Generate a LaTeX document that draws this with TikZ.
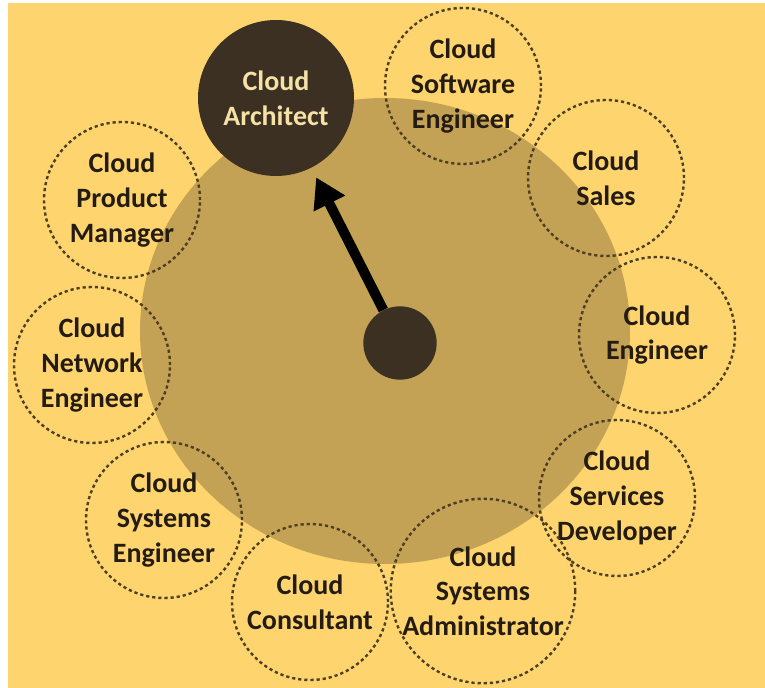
\documentclass[tikz,border=0pt]{standalone}
\usepackage{fontspec}
\setmainfont{Carlito}
\usepackage{tikz}
\usetikzlibrary{shapes}
\usetikzlibrary{arrows.meta}
\definecolor{paper}{HTML}{FDD46E}
\definecolor{sand}{HTML}{C4A255}
\definecolor{bark}{HTML}{3B3022}
\definecolor{ink}{HTML}{241C12}
\definecolor{cream}{HTML}{F6E2A6}
\definecolor{dots}{HTML}{4E3E22}
\tikzstyle{role}=[circle,draw=dots,line width=1.8pt,dash pattern=on 2.4pt off 2.2pt,text=ink,align=center,inner sep=0mm,minimum size=117pt,font=\bfseries\fontsize{21}{26}\selectfont]
\tikzstyle{goal}=[circle,fill=bark,text=cream,align=center,inner sep=0mm,minimum size=117pt,font=\bfseries\fontsize{21}{26}\selectfont]
\tikzstyle{core}=[circle,fill=bark,inner sep=0mm,minimum size=55pt]
\tikzstyle{arrow}=[-{Triangle[length=22pt,width=25pt]},line width=7.5pt,draw=black]
\begin{document}
\begin{tikzpicture}[x=0.75pt,y=-0.75pt]
          \useasboundingbox (0,0) rectangle (765,688);
          \fill[white] (0,0) rectangle (765,688);
          \fill[paper] (8,3) rectangle (765,688);
          \fill[sand] (385,331) ellipse [x radius=245, y radius=233];
          % career paths around the field
          \node[role] at (463,86) (soft) {Cloud\\Software\\Engineer};
          \node[role] at (606,178) (sales) {Cloud\\Sales};
          \node[role] at (657,335) (eng) {Cloud\\Engineer};
          \node[role] at (617,498) (dev) {Cloud\\Services\\Developer};
          \node[role] at (483,591) (admin) {Cloud\\Systems\\Administrator};
          \node[role] at (310,602) (cons) {Cloud\\Consultant};
          \node[role] at (164,520) (syseng) {Cloud\\Systems\\Engineer};
          \node[role] at (92,365) (net) {Cloud\\Network\\Engineer};
          \node[role] at (122,200) (prod) {Cloud\\Product\\Manager};
          \node[goal] at (276,98) (arch) {Cloud\\Architect};
          \node[core] at (400,343) (hub) {};
          \draw [arrow, shorten >=8pt] (hub) -- (arch);
        \end{tikzpicture}
\end{document}
